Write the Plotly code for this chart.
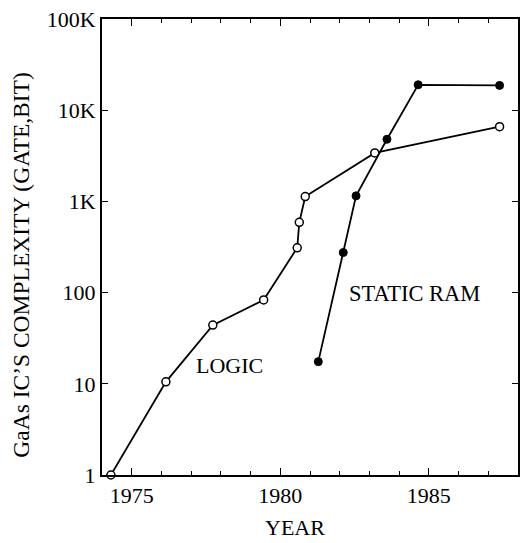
import math
import plotly.graph_objects as go

# GaAs integrated circuit complexity by year
logic_year = [1974.3, 1976.15, 1977.73, 1979.44, 1980.57, 1980.64, 1980.84, 1983.18, 1987.38]
logic_val = [1, 10.5, 44, 83, 310, 590, 1130, 3400, 6600]

ram_year = [1981.28, 1982.12, 1982.55, 1983.59, 1984.64, 1987.38]
ram_val = [17.5, 275, 1150, 4800, 19000, 18700]

y_ticks = [1, 10, 100, 1000, 10000, 100000]
y_tick_text = ["1", "10", "100", "1K", "10K", "100K"]
x_ticks = [1975, 1980, 1985]

FONT = "Liberation Serif, Times New Roman, serif"

fig = go.Figure()

fig.add_trace(go.Scatter(
    x=logic_year, y=logic_val, mode="lines+markers", name="LOGIC",
    line=dict(color="black", width=1.8),
    marker=dict(symbol="circle", size=8, color="white",
                line=dict(color="black", width=1.5)),
    cliponaxis=False,
))

fig.add_trace(go.Scatter(
    x=ram_year, y=ram_val, mode="lines+markers", name="STATIC RAM",
    line=dict(color="black", width=1.8),
    marker=dict(symbol="circle", size=8, color="black",
                line=dict(color="black", width=1)),
    cliponaxis=False,
))

fig.add_annotation(x=1978.3, y=math.log10(15.7), text="LOGIC", showarrow=False,
                   font=dict(family=FONT, size=22, color="black"))
fig.add_annotation(x=1984.5, y=math.log10(98), text="STATIC RAM", showarrow=False,
                   font=dict(family=FONT, size=22.5, color="black"))

# axis titles
fig.add_annotation(xref="paper", yref="paper", x=0, y=0.46, xshift=-80.5,
                   text="GaAs IC’S COMPLEXITY (GATE,BIT)", textangle=-90,
                   showarrow=False, xanchor="center", yanchor="middle",
                   font=dict(family=FONT, size=23.5, color="black"))
fig.add_annotation(xref="paper", yref="paper", x=0.464, y=-0.1155,
                   text="YEAR", showarrow=False, xanchor="center", yanchor="middle",
                   font=dict(family=FONT, size=22, color="black"))

fig.update_xaxes(
    range=[1974, 1988], tickvals=x_ticks, ticks="inside", ticklen=7,
    tickcolor="black", tickwidth=1.4,
    minor=dict(dtick=1, ticks="inside", ticklen=4, tickcolor="black", tickwidth=1.4),
    showline=True, linecolor="black", linewidth=2, mirror="ticks",
    showgrid=False, zeroline=False,
    tickfont=dict(family=FONT, size=22, color="black"),
)
fig.update_yaxes(
    type="log", range=[0, 5], tickvals=y_ticks, ticktext=y_tick_text,
    ticks="inside", ticklen=6, tickcolor="black", tickwidth=1.4,
    showline=True, linecolor="black", linewidth=2, mirror="ticks",
    showgrid=False, zeroline=False,
    tickfont=dict(family=FONT, size=22, color="black"),
)

fig.update_layout(
    width=527, height=543,
    margin=dict(l=102, r=7, t=16, b=68),
    paper_bgcolor="white", plot_bgcolor="white",
    showlegend=False,
)

fig.write_html("out.html")
